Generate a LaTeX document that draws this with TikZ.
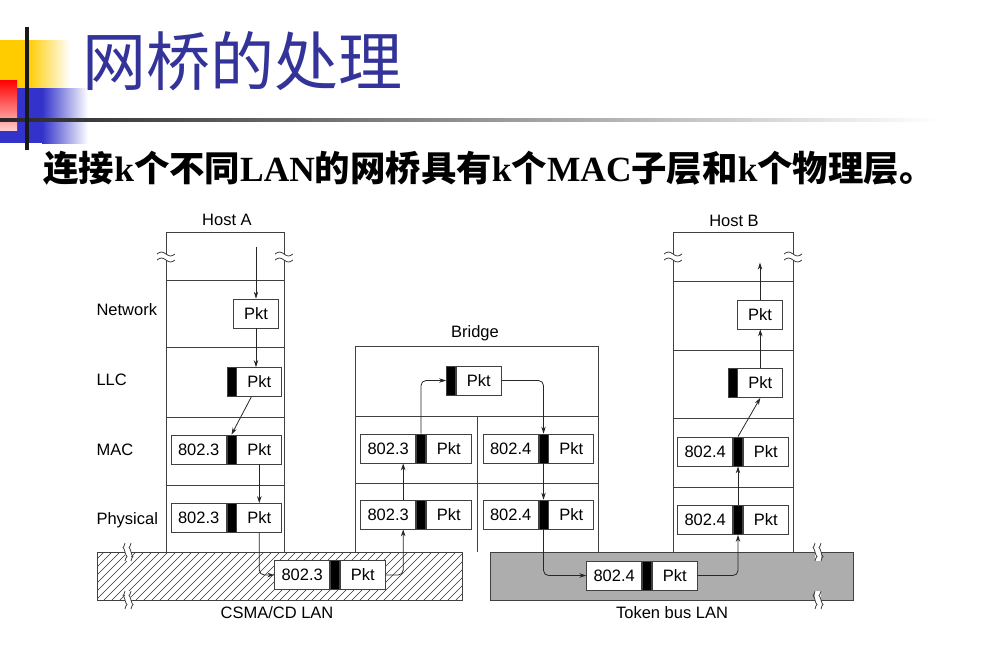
\documentclass[tikz,border=0pt]{standalone}
\usepackage{fontspec}
\setmainfont{Liberation Sans}
\newfontfamily\cjk{Noto Sans CJK SC}
\newfontfamily\latserif{Liberation Serif}
\usetikzlibrary{positioning,arrows.meta}

\definecolor{titleblue}{RGB}{51,51,153}
\definecolor{decoyellow}{RGB}{255,204,0}
\definecolor{decoblue}{RGB}{51,51,204}

% a frame: header, black bar, Pkt
\newcommand{\pktframe}[3]{%
  \node[barbox] (#1b) at (#2) {};
  \node[hdrbox, left=0pt of #1b] (#1h) {#3};
  \node[pktbox, right=0pt of #1b] (#1p) {Pkt};}
% LLC frame: black bar and Pkt
\newcommand{\pktllc}[2]{%
  \node[barbox] (#1b) at (#2) {};
  \node[pktbox, right=0pt of #1b] (#1p) {Pkt};}
% break marks on a vertical edge
\newcommand{\hbreak}[2]{%
  \fill[white] (#1-9,#2-3) rectangle (#1+9,#2+3);
  \draw[frame] (#1-9,#2-3) sin (#1-4.5,#2-5) cos (#1,#2-3) sin (#1+4.5,#2-1) cos (#1+9,#2-3);
  \draw[frame] (#1-9,#2+3) sin (#1-4.5,#2+1) cos (#1,#2+3) sin (#1+4.5,#2+5) cos (#1+9,#2+3);}
% break marks on a horizontal edge
\newcommand{\vbreak}[2]{%
  \fill[white] (#1-3,#2-9) rectangle (#1+3,#2+9);
  \draw[frame] (#1-3,#2-9) sin (#1-5,#2-4.5) cos (#1-3,#2) sin (#1-1,#2+4.5) cos (#1-3,#2+9);
  \draw[frame] (#1+3,#2-9) sin (#1+1,#2-4.5) cos (#1+3,#2) sin (#1+5,#2+4.5) cos (#1+3,#2+9);}

\begin{document}
\begin{tikzpicture}[x=1pt, y=-1pt,
    font=\fontsize{16.5}{18}\selectfont,
    frame/.style={draw=black!75, line width=0.8pt},
    hdrbox/.style={frame, fill=white, minimum width=55pt, minimum height=29pt, inner sep=0pt},
    barbox/.style={frame, fill=black, minimum width=9pt, minimum height=29pt, inner sep=0pt},
    pktbox/.style={frame, fill=white, minimum width=45pt, minimum height=29pt, inner sep=0pt},
    arr/.style={black!85, line width=0.8pt, -{Stealth[length=7pt, width=4.5pt]}, rounded corners=5pt},
    layer/.style={anchor=west}]
    \useasboundingbox (0,0) rectangle (981,659);

    % Title decoration
    \fill[decoyellow] (0,40) rectangle (28,88);
    \shade[left color=decoyellow, right color=white] (28,40) rectangle (70,88);
    \fill[decoblue] (0,88) rectangle (42,143);
    \shade[left color=decoblue, right color=white] (42,88) rectangle (88,143);
    \shade[top color=red, bottom color=red!20] (0,80) rectangle (17,130);
    \shade[left color=black!85, right color=white] (0,118.5) rectangle (940,121.5);
    \fill[black!90] (25,27) rectangle (29,150);

    % Title and subtitle
    \node[anchor=west, text=titleblue, font=\cjk\fontsize{64}{64}\selectfont] (title) at (79,61) {网桥的处理};
    \node[anchor=west, font=\cjk\bfseries\fontsize{35.4}{35.4}\selectfont] (subtitle) at (40,168)
        {连接{\latserif\bfseries k}个不同{\latserif\bfseries LAN}的网桥具有{\latserif\bfseries k}个{\latserif\bfseries MAC}子层和{\latserif\bfseries k}个物理层。};

    % LANs
    \begin{scope}
        \clip (97,552) rectangle (462,600);
        \foreach \i in {40,48,...,470}
            \draw[black!80, line width=0.6pt] (\i,600) -- (\i+48,552);
    \end{scope}
    \draw[frame] (97,552) rectangle (462,600);
    \fill[black!32] (490,552) rectangle (853,600);
    \draw[frame] (490,552) rectangle (853,600);
    \vbreak{128}{552}
    \vbreak{128}{600}
    \vbreak{818}{552}
    \vbreak{818}{600}
    \node (csma) at (277,613) {CSMA/CD LAN};
    \node (tbus) at (672,613) {Token bus LAN};

    % Host A
    \draw[frame] (166,552) -- (166,232) -- (284,232) -- (284,552);
    \draw[frame] (166,280) -- (284,280);
    \draw[frame] (166,347) -- (284,347);
    \draw[frame] (166,417) -- (284,417);
    \draw[frame] (166,485) -- (284,485);
    \hbreak{166}{257}
    \hbreak{284}{257}
    \node (hosta) at (227,220) {Host A};
    \node[layer] (lnet) at (93,310) {Network};
    \node[layer] (lllc) at (93,380) {LLC};
    \node[layer] (lmac) at (93,450) {MAC};
    \node[layer] (lphy) at (93,520) {Physical};

    % Bridge
    \draw[frame] (355,552) -- (355,346) -- (598,346) -- (598,552);
    \draw[frame] (355,416) -- (598,416);
    \draw[frame] (355,483) -- (598,483);
    \draw[frame] (477,416) -- (477,552);
    \node (bridge) at (475,333) {Bridge};

    % Host B
    \draw[frame] (673,552) -- (673,232) -- (793,232) -- (793,552);
    \draw[frame] (673,281) -- (793,281);
    \draw[frame] (673,350) -- (793,350);
    \draw[frame] (673,418) -- (793,418);
    \draw[frame] (673,487) -- (793,487);
    \hbreak{673}{257}
    \hbreak{793}{257}
    \node (hostb) at (734,221) {Host B};

    % Frames
    \node[pktbox] (anp) at (256,313.5) {Pkt};
    \pktllc{al}{231.5,382}
    \pktframe{am}{231.5,449.5}{802.3}
    \pktframe{ap}{231.5,518}{802.3}
    \pktframe{la}{335,575}{802.3}
    \pktllc{bt}{451,380.5}
    \pktframe{bm}{421,448.5}{802.3}
    \pktframe{bp}{421,514.5}{802.3}
    \pktframe{cm}{543.5,448.5}{802.4}
    \pktframe{cp}{543.5,514.5}{802.4}
    \pktframe{lb}{647,575.5}{802.4}
    \node[pktbox] (hnp) at (760,314.5) {Pkt};
    \pktllc{hl}{732.5,383}
    \pktframe{hm}{738,451.5}{802.4}
    \pktframe{hp}{738,520}{802.4}

    % Path of the packet
    \coordinate (atop) at ([yshift=52pt]anp.north);
    \coordinate (htop) at ([yshift=37pt]hnp.north);
    \draw[arr] (atop) -- (anp.north);
    \draw[arr] (anp.south) -- (anp.south |- alp.north);
    \draw[arr] ([xshift=-8pt]alp.south) -- (amb.north);
    \draw[arr] (amp.south) -- (app.north);
    \draw[arr] (app.south) |- (lah.west);
    \draw[arr] (lap.east) -| ([xshift=15pt]bph.south);
    \draw[arr] ([xshift=15pt]bph.north) -- ([xshift=15pt]bmh.south);
    \draw[arr] (bmb.north) |- (btb.west);
    \draw[arr] (btp.east) -| (cmb.north);
    \draw[arr] (cmb.south) -- (cpb.north);
    \draw[arr] (cpb.south) |- (lbh.west);
    \draw[arr] (lbp.east) -| (hpb.south);
    \draw[arr] (hpb.north) -- (hmb.south);
    \draw[arr] (hmb.north) -- (hlp.south);
    \draw[arr] (hlp.north) -- (hlp.north |- hnp.south);
    \draw[arr] (hnp.north) -- (htop);
\end{tikzpicture}
\end{document}
